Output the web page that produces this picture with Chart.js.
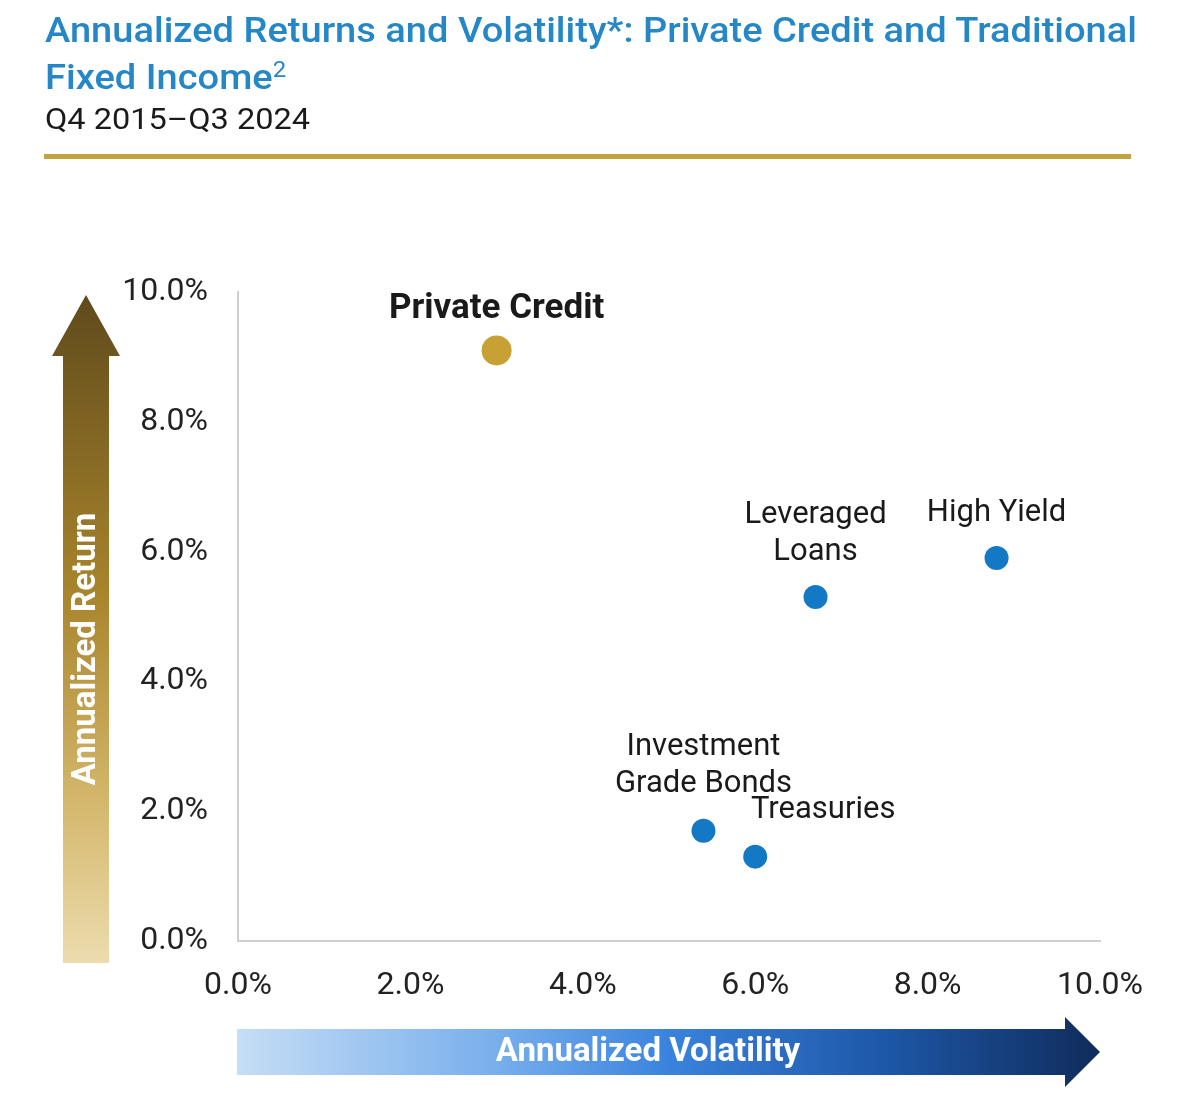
<!DOCTYPE html>
<html>
<head>
<meta charset="utf-8">
<script src="https://cdn.jsdelivr.net/npm/chart.js@4.4.1/dist/chart.umd.min.js"></script>
<style>
  html, body { margin: 0; padding: 0; background: #fff; overflow: hidden; }
  #wrap { position: relative; width: 1200px; height: 1101px; }
  #myChart { position: absolute; left: 0; top: 0; }
  .ttl { position: absolute; left: 45px; font-family: Roboto, sans-serif; white-space: nowrap; transform-origin: 0 50%; }
  .blue { color: #2587c6; font-weight: 500; font-size: 35px; }
  .sub { color: #1a1a1a; font-size: 29px; }
  #rule { position: absolute; left: 44px; top: 154px; width: 1087px; height: 5px; background: #c3a340; }
</style>
</head>
<body>
<div id="wrap">
  <canvas id="myChart" width="1200" height="1101"></canvas>
  <div class="ttl blue" id="t1" style="top:10px">Annualized Returns and Volatility*: Private Credit and Traditional</div>
  <div class="ttl blue" id="t2" style="top:57px">Fixed Income<sup style="font-size:22px;font-weight:400;vertical-align:12px;line-height:0">2</sup></div>
  <div class="ttl sub" id="t3" style="top:102px">Q4 2015–Q3 2024</div>
  <div id="rule"></div>
</div>
<script>
// datos
var nombres = ['Private Credit', 'Leveraged Loans', 'High Yield', 'Investment Grade Bonds', 'Treasuries'];
var volatilidad = [3.0, 6.7, 8.8, 5.4, 6.0];
var retorno = [9.1, 5.3, 5.9, 1.7, 1.3];
var ticksEje = [0, 2, 4, 6, 8, 10];

// ajustar ancho del titulo (fuente condensada en el original)
function ajustar(id, ancho) {
    var el = document.getElementById(id);
    var w = el.getBoundingClientRect().width;
    if (ancho) el.style.transform = 'scaleX(' + (ancho / w) + ')';
    return ancho / w;
}
var esc = ajustar('t1', 1092);
document.getElementById('t2').style.transform = 'scaleX(' + esc + ')';
ajustar('t3', 265);

// etiquetas de cada punto: lineas y desplazamiento
var etiquetas = {
    'Private Credit': { lineas: ['Private Credit'], dx: 0, dy: [-41], bold: true },
    'Leveraged Loans': { lineas: ['Leveraged', 'Loans'], dx: 0, dy: [-82, -45] },
    'High Yield': { lineas: ['High Yield'], dx: 0, dy: [-45] },
    'Investment Grade Bonds': { lineas: ['Investment', 'Grade Bonds'], dx: 0, dy: [-83, -46] },
    'Treasuries': { lineas: ['Treasuries'], dx: 68, dy: [-46] }
};

var puntos = [];
for (var i = 0; i < nombres.length; i++) {
    puntos.push({ x: volatilidad[i], y: retorno[i] });
}

// flechas de fondo
var flechas = {
    id: 'flechas',
    beforeDraw: function (chart) {
        var c = chart.ctx, a = chart.chartArea;
        c.save();
        // flecha vertical
        var cx = 86, top = a.top + 3, bot = a.bottom + 22;
        var g = c.createLinearGradient(0, top, 0, bot);
        g.addColorStop(0, '#5f4a1c');
        g.addColorStop(0.45, '#a9852c');
        g.addColorStop(0.75, '#d3b66a');
        g.addColorStop(1, '#ecdcae');
        c.fillStyle = g;
        c.beginPath();
        c.moveTo(cx, top);
        c.lineTo(cx + 34, top + 61);
        c.lineTo(cx + 23, top + 61);
        c.lineTo(cx + 23, bot);
        c.lineTo(cx - 23, bot);
        c.lineTo(cx - 23, top + 61);
        c.lineTo(cx - 34, top + 61);
        c.closePath();
        c.fill();
        c.translate(cx, 649);
        c.rotate(-Math.PI / 2);
        c.fillStyle = '#ffffff';
        c.font = 'bold 33px Roboto';
        c.textAlign = 'center';
        c.textBaseline = 'middle';
        c.fillText('Annualized Return', 0, 1);
        c.restore();

        // flecha horizontal
        c.save();
        var x0 = a.left - 1, x1 = a.right, cy = a.bottom + 111;
        var g2 = c.createLinearGradient(x0, 0, x1, 0);
        g2.addColorStop(0, '#c6ddf5');
        g2.addColorStop(0.3, '#78afec');
        g2.addColorStop(0.5, '#3a83dd');
        g2.addColorStop(0.75, '#1d57a8');
        g2.addColorStop(1, '#102c5a');
        c.fillStyle = g2;
        c.beginPath();
        c.moveTo(x0, cy - 23);
        c.lineTo(x1 - 35, cy - 23);
        c.lineTo(x1 - 35, cy - 35);
        c.lineTo(x1, cy);
        c.lineTo(x1 - 35, cy + 35);
        c.lineTo(x1 - 35, cy + 23);
        c.lineTo(x0, cy + 23);
        c.closePath();
        c.fill();
        c.fillStyle = '#ffffff';
        c.font = 'bold 33px Roboto';
        c.textAlign = 'center';
        c.textBaseline = 'middle';
        c.fillText('Annualized Volatility', 648, cy + 1);
        c.restore();
    },
    afterDatasetsDraw: function (chart) {
        var c = chart.ctx;
        var meta = chart.getDatasetMeta(0);
        c.save();
        c.fillStyle = '#1a1a1a';
        c.textAlign = 'center';
        c.textBaseline = 'middle';
        meta.data.forEach(function (p, i) {
            var e = etiquetas[nombres[i]];
            c.font = e.bold ? 'bold 35px Roboto' : '31px Roboto';
            e.lineas.forEach(function (t, j) {
                c.fillText(t, p.x + e.dx, p.y + e.dy[j]);
            });
        });
        c.restore();
    }
};

var graphTarget = document.getElementById('myChart');
var grafica = new Chart(graphTarget, {
    type: 'scatter',
    data: {
        datasets: [{
            label: 'Retorno',
            data: puntos,
            backgroundColor: function (ctx) { return ctx.dataIndex === 0 ? '#c8a135' : '#1479c4'; },
            borderWidth: 0,
            pointRadius: function (ctx) { return ctx.dataIndex === 0 ? 15 : 12; },
            pointHoverRadius: function (ctx) { return ctx.dataIndex === 0 ? 15 : 12; }
        }]
    },
    plugins: [flechas],
    options: {
        responsive: false,
        animation: false,
        layout: { padding: { top: 292, right: 100, bottom: 0, left: 0 } },
        plugins: { legend: { display: false }, tooltip: { enabled: false } },
        scales: {
            x: {
                min: 0, max: 10,
                afterBuildTicks: function (s) { s.ticks = ticksEje.map(function (v) { return { value: v }; }); },
                afterFit: function (s) { s.height = 160; },
                grid: { display: false, drawTicks: false },
                border: { display: true, color: '#cfcfcf', width: 2 },
                ticks: {
                    padding: 26,
                    color: '#222',
                    font: { family: 'Roboto', size: 32 },
                    maxRotation: 0,
                    callback: function (v) { return v.toFixed(1) + '%'; }
                }
            },
            y: {
                min: 0, max: 10,
                afterBuildTicks: function (s) { s.ticks = ticksEje.map(function (v) { return { value: v }; }); },
                afterFit: function (s) { s.width = 238; },
                grid: { display: false, drawTicks: false },
                border: { display: true, color: '#cfcfcf', width: 2 },
                ticks: {
                    padding: 30,
                    color: '#222',
                    font: { family: 'Roboto', size: 32 },
                    callback: function (v) { return v.toFixed(1) + '%'; }
                }
            }
        }
    }
});
</script>
</body>
</html>
